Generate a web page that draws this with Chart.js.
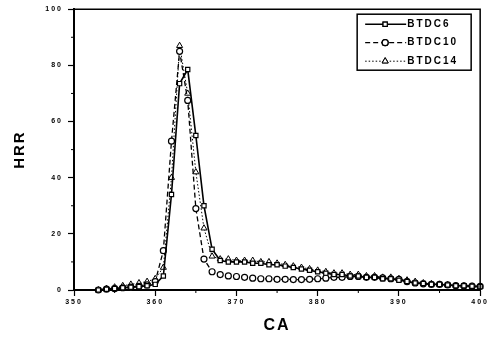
<!DOCTYPE html>
<html>
<head>
<meta charset="utf-8">
<script src="https://cdn.jsdelivr.net/npm/chart.js@4.4.0/dist/chart.umd.min.js"></script>
<style>
  html, body { margin: 0; padding: 0; background: #fff; }
  #wrap { width: 491px; height: 341px; }
</style>
</head>
<body>
<div id="wrap"><canvas id="hrrChart" width="491" height="341"></canvas></div>
<script>
// ---- data ----
const ca = [353, 354, 355, 356, 357, 358, 359, 360, 361, 362, 363, 364, 365, 366, 367, 368,
  369, 370, 371, 372, 373, 374, 375, 376, 377, 378, 379, 380, 381, 382, 383, 384,
  385, 386, 387, 388, 389, 390, 391, 392, 393, 394, 395, 396, 397, 398, 399, 400];

const btdc6 = [0, 0.3, 0.5, 0.8, 1, 1.2, 1.5, 2, 5, 34, 73.5, 78.5, 55, 30, 14.5, 10.5,
  10, 10, 10, 9.5, 9.5, 9, 9, 8.5, 8, 7.5, 7, 6.5, 6, 5.5, 5.5, 5,
  5, 4.5, 4.5, 4, 4, 3.5, 3, 2.5, 2.3, 2, 2, 1.8, 1.5, 1.5, 1.3, 1.2];

const btdc10 = [0, 0.3, 0.5, 0.8, 1, 1.3, 1.8, 3, 14, 53, 85, 67.5, 29, 11, 6.5, 5.5,
  5, 4.8, 4.5, 4.2, 4, 4, 3.8, 3.8, 3.7, 3.7, 3.8, 4, 4.2, 4.5, 4.5, 4.8,
  4.8, 4.5, 4.5, 4.3, 4, 3.8, 3, 2.5, 2.2, 2, 2, 1.8, 1.6, 1.5, 1.4, 1.3];

const btdc14 = [0, 0.5, 1, 1.5, 2, 2.5, 3, 4, 8, 40, 87, 70, 42, 22, 12, 11,
  11, 10.5, 10.5, 10.5, 10, 10, 9.5, 9, 8.5, 8, 7.5, 7, 6.5, 6, 6, 5.5,
  5.5, 5, 5, 4.5, 4.5, 4, 3.5, 3, 2.5, 2.2, 2, 1.8, 1.6, 1.5, 1.3, 1.2];

const seriesNames = ['BTDC6', 'BTDC10', 'BTDC14'];
const xTicks = [350, 360, 370, 380, 390, 400];
const yTicks = [0, 20, 40, 60, 80, 100];

const toPoints = vals => vals.map((v, i) => ({ x: ca[i], y: v }));

// letter spacing like the scanned figure
const spacing = {
  id: 'spacing',
  beforeUpdate(chart) { chart.ctx.letterSpacing = '2px'; },
  beforeDraw(chart) { chart.ctx.letterSpacing = '2px'; }
};

// frame on top/right + minor ticks
const frame = {
  id: 'frame',
  afterDraw(chart) {
    const { ctx, chartArea: a, scales } = chart;
    ctx.save();
    ctx.strokeStyle = '#000';
    ctx.lineWidth = 1.5;
    ctx.beginPath();
    ctx.moveTo(a.left, a.top);
    ctx.lineTo(a.right, a.top);
    ctx.lineTo(a.right, a.bottom);
    ctx.stroke();
    ctx.lineWidth = 1;
    ctx.beginPath();
    for (let v = 355; v < 400; v += 10) {
      const px = scales.x.getPixelForValue(v);
      ctx.moveTo(px, a.bottom);
      ctx.lineTo(px, a.bottom + 3);
    }
    for (let v = 10; v < 100; v += 20) {
      const py = scales.y.getPixelForValue(v);
      ctx.moveTo(a.left, py);
      ctx.lineTo(a.left - 3, py);
    }
    ctx.stroke();
    ctx.restore();
  }
};

// boxed legend inside plot
const boxLegend = {
  id: 'boxLegend',
  afterDraw(chart) {
    const ctx = chart.ctx;
    const a = chart.chartArea;
    const bx = a.right - 123, by = a.top + 5, bw = 114, bh = 56;
    ctx.save();
    ctx.strokeStyle = '#000';
    ctx.lineWidth = 1.5;
    ctx.fillStyle = '#fff';
    ctx.fillRect(bx, by, bw, bh);
    ctx.strokeRect(bx, by, bw, bh);
    ctx.font = 'bold 10px "Liberation Sans", Arial, sans-serif';
    ctx.textBaseline = 'middle';
    chart.data.datasets.forEach((ds, i) => {
      const y = by + 10 + i * 18.5;
      ctx.strokeStyle = '#000';
      ctx.lineWidth = ds.borderWidth;
      ctx.setLineDash(ds.borderDash || []);
      ctx.beginPath();
      ctx.moveTo(bx + 8, y);
      ctx.lineTo(bx + 49, y);
      ctx.stroke();
      ctx.setLineDash([]);
      ctx.lineWidth = ds.pointBorderWidth;
      Chart.helpers.drawPoint(ctx, {
        pointStyle: ds.pointStyle, radius: ds.pointRadius, rotation: 0,
        borderWidth: ds.pointBorderWidth
      }, bx + 28, y);
      ctx.fillStyle = '#fff';
      ctx.fill();
      ctx.stroke();
      ctx.fillStyle = '#000';
      ctx.fillText(ds.label, bx + 50, y);
    });
    ctx.restore();
  }
};

const tickFont = { family: '"Liberation Sans", Arial, sans-serif', size: 7, weight: 'bold' };

new Chart(document.getElementById('hrrChart'), {
  type: 'line',
  data: {
    datasets: [
      {
        label: seriesNames[0], data: toPoints(btdc6),
        borderColor: '#000', borderWidth: 1.6, borderDash: [],
        pointStyle: 'rect', pointRadius: 3, pointBorderWidth: 1.2,
        pointBackgroundColor: '#fff', pointBorderColor: '#000'
      },
      {
        label: seriesNames[1], data: toPoints(btdc10),
        borderColor: '#000', borderWidth: 1.3, borderDash: [5, 3],
        pointStyle: 'circle', pointRadius: 3, pointBorderWidth: 1.2,
        pointBackgroundColor: '#fff', pointBorderColor: '#000'
      },
      {
        label: seriesNames[2], data: toPoints(btdc14),
        borderColor: '#000', borderWidth: 1, borderDash: [1.5, 2],
        pointStyle: 'triangle', pointRadius: 3.5, pointBorderWidth: 1,
        pointBackgroundColor: '#fff', pointBorderColor: '#000'
      }
    ]
  },
  options: {
    responsive: false,
    animation: false,
    layout: { padding: { top: 8, right: 10, left: 0, bottom: 0 } },
    elements: { line: { tension: 0 } },
    clip: false,
    plugins: { legend: { display: false }, tooltip: { enabled: false } },
    scales: {
      x: {
        type: 'linear', min: 350, max: 400,
        afterBuildTicks: s => { s.ticks = xTicks.map(v => ({ value: v })); },
        afterFit: s => { s.height = 51; },
        ticks: { color: '#000', font: tickFont, padding: 2, maxRotation: 0 },
        grid: { drawOnChartArea: false, color: '#000', tickLength: 6, tickWidth: 1.2 },
        border: { color: '#000', width: 2 },
        title: {
          display: true, text: 'CA', color: '#000',
          font: { family: '"Liberation Sans", Arial, sans-serif', size: 16, weight: 'bold' },
          padding: { top: 0, bottom: 6 }
        }
      },
      y: {
        min: 0, max: 100,
        afterBuildTicks: s => { s.ticks = yTicks.map(v => ({ value: v })); },
        afterFit: s => { s.width = 74; },
        ticks: { color: '#000', font: tickFont, padding: 5 },
        grid: { drawOnChartArea: false, color: '#000', tickLength: 6, tickWidth: 1.2 },
        border: { color: '#000', width: 2 },
        title: {
          display: true, text: 'HRR', color: '#000',
          font: { family: '"Liberation Sans", Arial, sans-serif', size: 15, weight: 'bold' },
          padding: { top: 11, bottom: 0 }
        }
      }
    }
  },
  plugins: [spacing, frame, boxLegend]
});
</script>
</body>
</html>
